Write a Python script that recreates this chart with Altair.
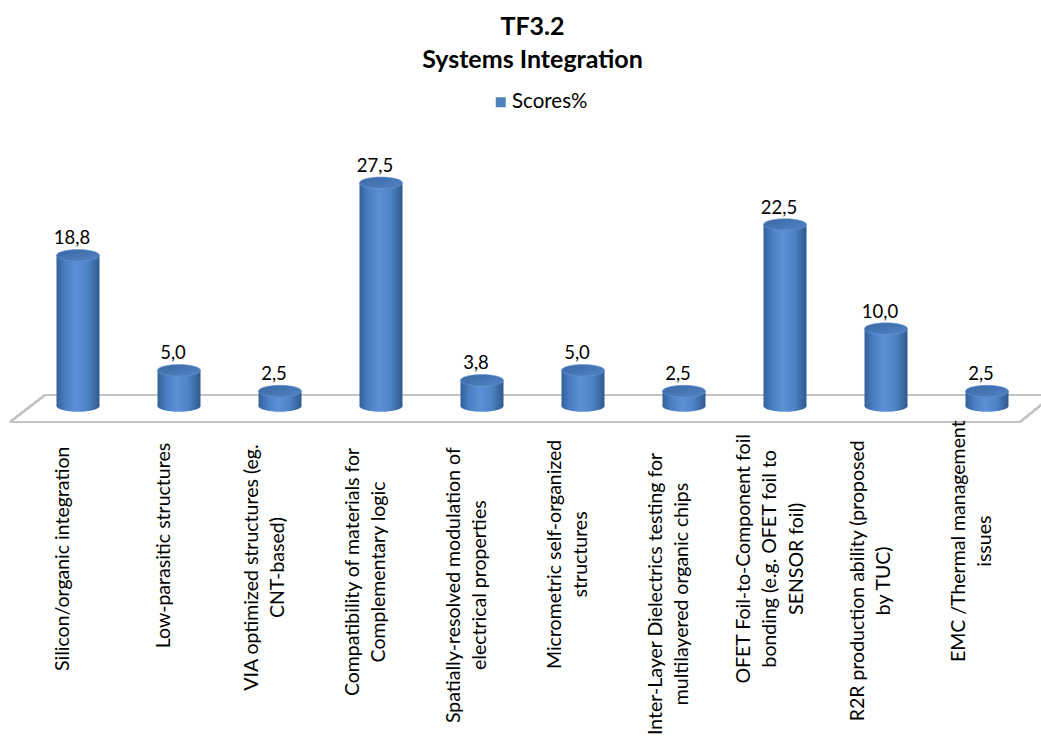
import altair as alt
import pandas as pd

categories = [
    "Silicon/organic integration",
    "Low-parasitic structures",
    "VIA optimized structures (eg.|CNT-based)",
    "Compatibility of materials for|Complementary logic",
    "Spatially-resolved modulation  of|electrical properties",
    "Micrometric self-organized|structures",
    "Inter-Layer Dielectrics testing for|multilayered organic chips",
    "OFET Foil-to-Component foil|bonding (e.g. OFET foil to|SENSOR foil)",
    "R2R production ability (proposed|by TUC)",
    "EMC /Thermal management|issues",
]
scores = [18.8, 5.0, 2.5, 27.5, 3.8, 5.0, 2.5, 22.5, 10.0, 2.5]
series_name = "Scores%"

df = pd.DataFrame({"cat": categories, "score": scores, "series": [series_name] * len(scores)})

FONT = "Lato"
W, H = 1010, 250
BAR_W = 43
P_IN = 1 - BAR_W / 101
P_OUT = P_IN / 2

side_grad = alt.Gradient(
    gradient="linear",
    stops=[
        alt.GradientStop(color="#33609a", offset=0),
        alt.GradientStop(color="#4a7ec2", offset=0.2),
        alt.GradientStop(color="#5b90d6", offset=0.45),
        alt.GradientStop(color="#4e83c6", offset=0.72),
        alt.GradientStop(color="#2f5a8f", offset=1),
    ],
    x1=0, x2=1, y1=0, y2=0,
)
top_grad = alt.Gradient(
    gradient="linear",
    stops=[
        alt.GradientStop(color="#3a68a4", offset=0),
        alt.GradientStop(color="#5283c4", offset=1),
    ],
    x1=0, x2=1, y1=0, y2=1,
)

ellipse = "M -1 0 A 1 0.27 0 1 0 1 0 A 1 0.27 0 1 0 -1 0 Z"

xscale = alt.Scale(domain=categories, paddingInner=P_IN, paddingOuter=P_OUT)
xenc = alt.X("cat:N", sort=None, scale=xscale, axis=None)
yscale = alt.Scale(domain=[0, 30])
yenc = alt.Y("score:Q", scale=yscale, axis=None)

base = alt.Chart(df).transform_calculate(zero="0")

floor_color = "#c4c4c4"
floor_back = base.mark_rule(color=floor_color, strokeWidth=2).encode(
    x=alt.value(17.5), x2=alt.value(1030), y=alt.value(233), y2=alt.value(233))
floor_front = base.mark_rule(color=floor_color, strokeWidth=2).encode(
    x=alt.value(-17.5), x2=alt.value(992.5), y=alt.value(260), y2=alt.value(260))
floor_left = base.mark_rule(color=floor_color, strokeWidth=2).encode(
    x=alt.value(-17.5), x2=alt.value(17.5), y=alt.value(260), y2=alt.value(233))
floor_right = base.mark_rule(color=floor_color, strokeWidth=2).encode(
    x=alt.value(992.5), x2=alt.value(1026), y=alt.value(260), y2=alt.value(233))

bottom = base.mark_point(shape=ellipse, size=BAR_W ** 2, filled=True, fill=side_grad,
                         opacity=1, strokeWidth=0, yOffset=-6).encode(
    x=xenc, y=alt.Y("zero:Q", scale=yscale, axis=None))
bars = base.mark_bar(fill=side_grad, y2Offset=-6).encode(
    x=xenc, y=yenc, y2="zero:Q")
top = base.mark_point(shape=ellipse, size=BAR_W ** 2, filled=True, fill=top_grad,
                      opacity=1, stroke="#6a98d6", strokeWidth=0.6).encode(x=xenc, y=yenc)
labels = base.transform_calculate(
    lbl="replace(format(datum.score, '.1f'), '.', ',')"
).mark_text(font=FONT, fontSize=18.5, color="#000000", dx=-6, dy=-11, baseline="alphabetic").encode(
    x=xenc, y=yenc, text="lbl:N")

# category labels: wrapped, rotated, lines centred on each other, block starting below the floor
label_lines = (
    alt.Chart(df)
    .transform_calculate(lines="split(datum.cat, '|')")
    .transform_flatten(["lines"], as_=["line"])
    .transform_window(idx="row_number()", groupby=["cat"])
    .transform_calculate(nch="length(datum.line)")
    .transform_joinaggregate(n="count()", maxch="max(nch)", groupby=["cat"])
    .transform_calculate(off="datum.idx - 1 - (datum.n - 1) / 2",
                         cy="278 + datum.maxch * 4.4")
)
LINE_GAP = 26.5
cat_label_layers = []
for k in [-1, -0.5, 0, 0.5, 1]:
    shift = -15 + k * LINE_GAP
    cat_label_layers.append(
        label_lines.transform_filter(alt.datum.off == k)
        .mark_text(font=FONT, fontSize=19.5, color="#000000", angle=270,
                   align="center", baseline="middle")
        .encode(
            x=alt.X("cat:N", sort=None, axis=None,
                    scale=alt.Scale(domain=categories, range=[shift, W + shift],
                                    paddingInner=P_IN, paddingOuter=P_OUT)),
            y=alt.Y("cy:Q", scale=alt.Scale(domain=[0, 250], range=[0, 250]), axis=None),
            text="line:N",
        )
    )

legend_layer = base.mark_square(opacity=0).encode(
    x=xenc, y=yenc,
    color=alt.Color("series:N", scale=alt.Scale(domain=[series_name], range=["#4f81bd"]),
                    legend=alt.Legend(title=None, orient="none", legendX=463, legendY=-70,
                                      symbolType="square", symbolSize=100, symbolOpacity=1,
                                      symbolStrokeWidth=0, labelFont=FONT, labelFontSize=20.5,
                                      labelColor="#000000", labelOffset=1, padding=0)),
)

nb = "\u00a0"
chart = alt.layer(floor_back, floor_front, floor_left, floor_right,
                  bottom, bars, top, labels, *cat_label_layers, legend_layer).resolve_scale(
    x="independent", y="independent"
).properties(
    width=W,
    height=H,
    title=alt.TitleParams(
        text=["TF3.2" + nb * 10, "Systems Integration"],
        font=FONT, fontSize=25, fontWeight="bold", color="#000000",
        anchor="middle", lineHeight=33, offset=19,
    ),
    padding={"left": 27.5, "top": 162, "right": 3.5, "bottom": 334},
    autosize=alt.AutoSizeParams(type="none"),
).configure_view(strokeWidth=0)

chart.save("out.html", embed_options={"renderer": "svg", "actions": False})
